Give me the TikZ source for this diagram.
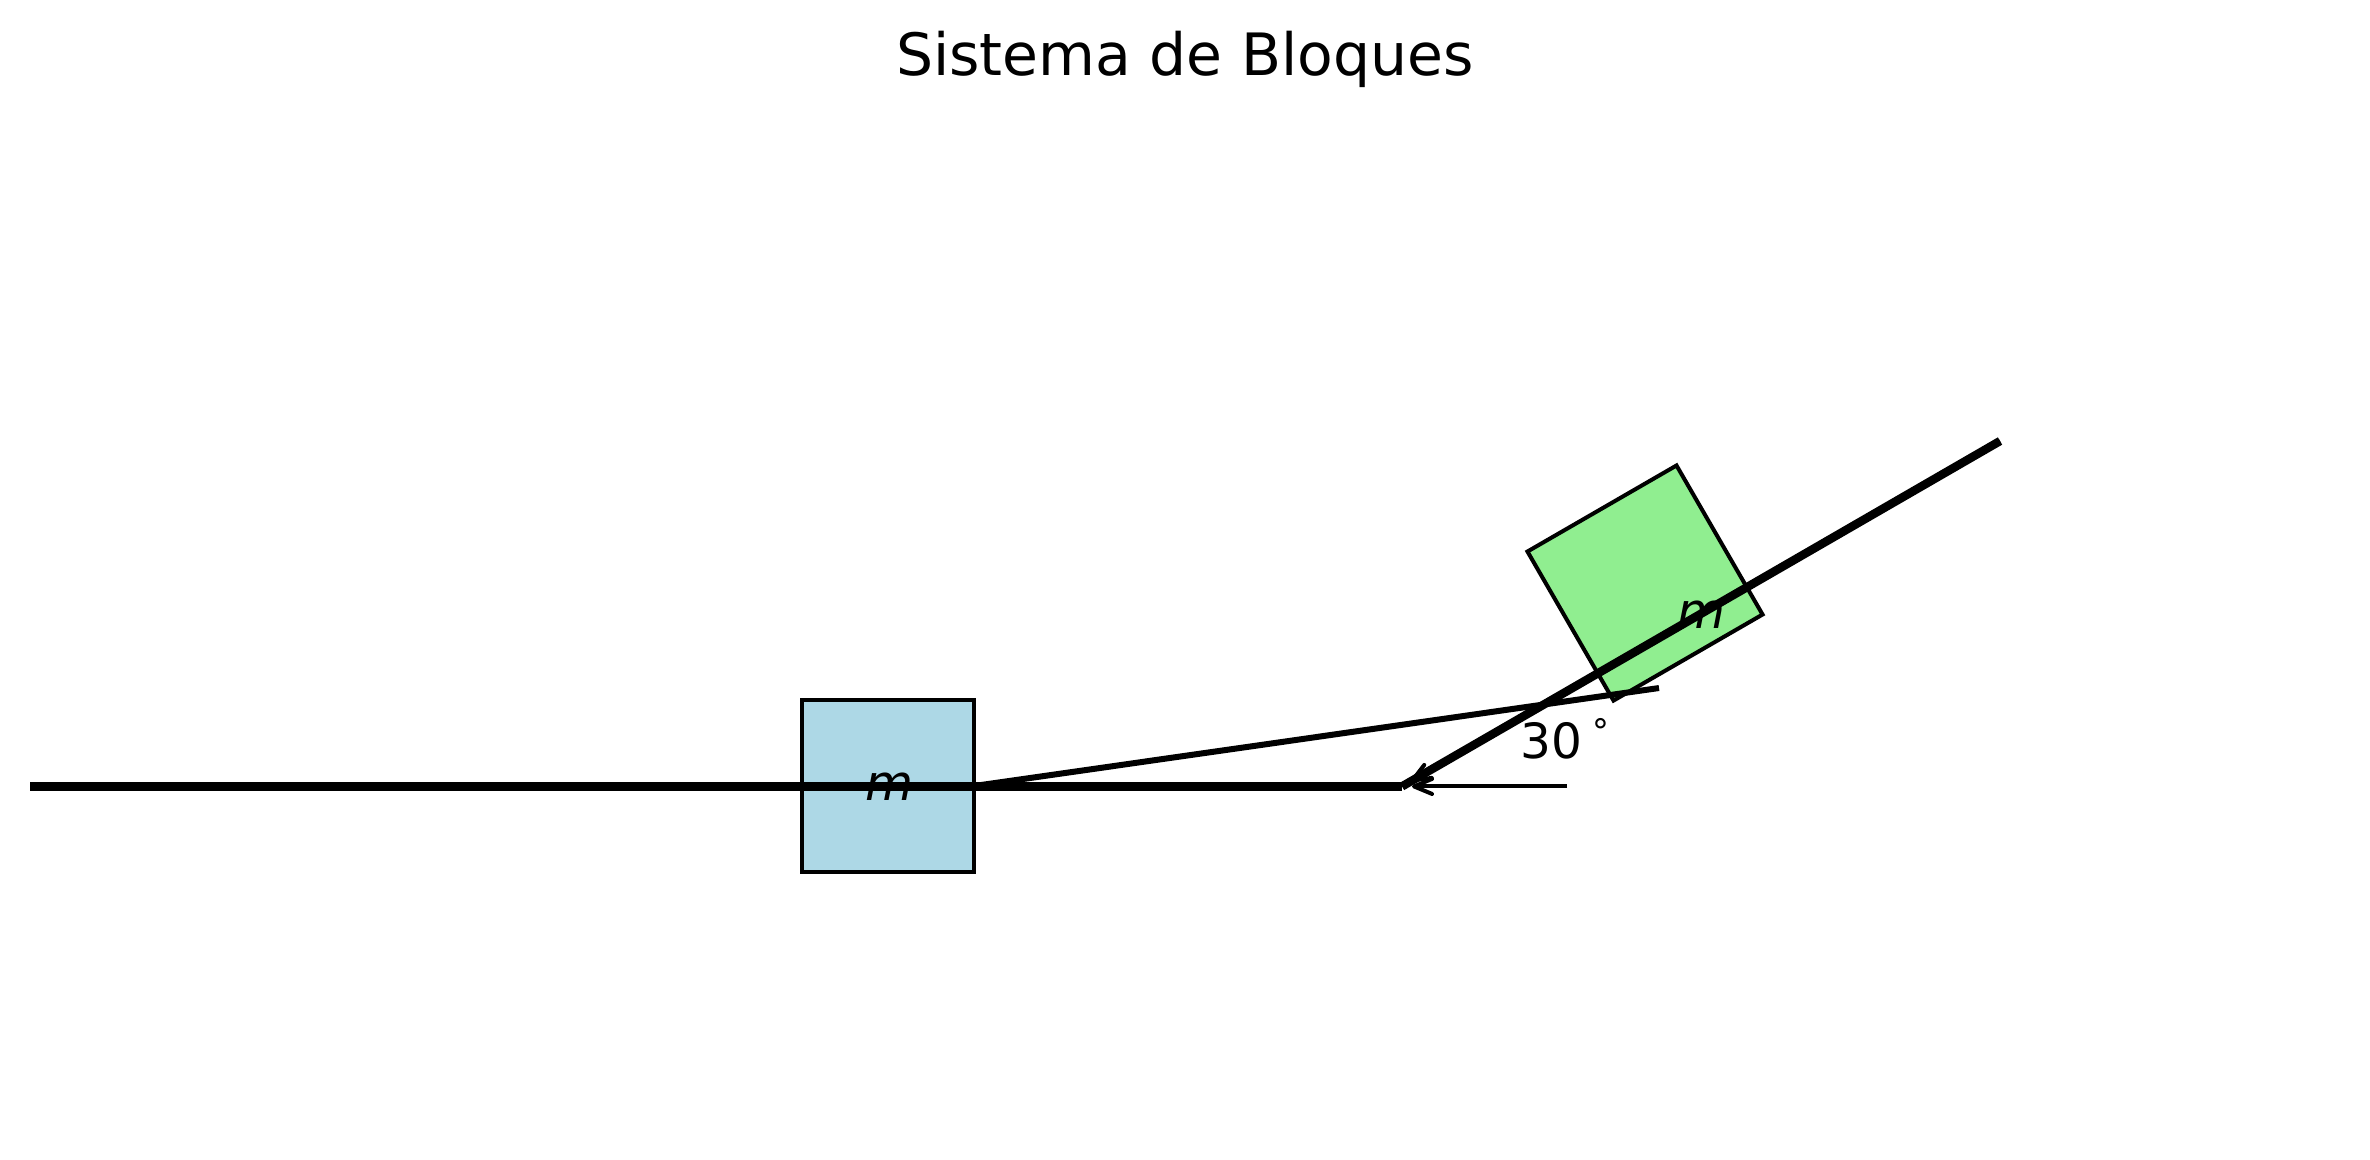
\documentclass[tikz,border=0pt]{standalone}
\usepackage{fontspec}
\setmainfont{DejaVu Sans}
\usetikzlibrary{positioning,arrows.meta}
\definecolor{lightblue}{HTML}{ADD8E6}
\definecolor{lightgreen}{HTML}{90EE90}

\begin{document}
\begin{tikzpicture}[
    x=0.01cm, y=-0.01cm,
    block/.style={rectangle, draw=black, line width=0.4mm, minimum size=1.72cm, inner sep=0pt},
    ground/.style={line width=0.85mm},
    rope/.style={line width=0.6mm},
    marker/.style={line width=0.4mm, shorten >=0.1cm, -{Straight Barb[length=1.8mm, width=1.5mm, round]}},
    masslabel/.style={font=\fontsize{14}{16}\selectfont\itshape},
    anglelabel/.style={font=\fontsize{13.8}{16}\selectfont},
]
\useasboundingbox (0,0) rectangle (2370,1159);

% Title
\node[font=\fontsize{16.6}{20}\selectfont] (title) at (1185,59) {Sistema de Bloques};

% Blocks
\node[block, fill=lightblue] (blockm) at (888,786) {};
\node[block, fill=lightgreen, rotate=30] (blockn) at (1645,583) {};

% Floor and incline
\coordinate (floorstart) at (30,786.4);
\coordinate (corner) at (1402,786.4);
\coordinate (inclineend) at (2000,441);
\draw[ground] (floorstart) -- (corner);
\draw[ground] (corner) -- (inclineend);

% Rope
\coordinate (ropestart) at (974,786);
\coordinate (ropeend) at (1659,688);
\draw[rope] (ropestart) -- (ropeend);

% Angle marker
\coordinate (markerstart) at (1567,786.4);
\draw[marker] (markerstart) -- (corner);
\draw[marker] (inclineend) -- (corner);

% Labels
\node[masslabel] (labelm) at (889,787) {m};
\node[masslabel] (labeln) at (1701,615) {m};
\node[anglelabel, anchor=west] (labelangle) at (1508,739) {30\hspace{0.22em}\raisebox{0.3em}{\fontsize{9.6}{10}\selectfont °}};

\end{tikzpicture}
\end{document}
